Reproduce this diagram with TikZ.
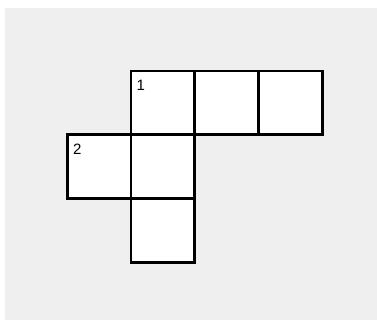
\documentclass[tikz,border=0pt]{standalone}
\usepackage{fontspec}
\setmainfont{Liberation Sans}
\usetikzlibrary{positioning}
\definecolor{pagegray}{RGB}{239,239,239}

\begin{document}
\begin{tikzpicture}[
    x=1pt, y=-1pt,
    node distance=0pt,
    netcell/.style={draw, line width=2.8pt, fill=white, minimum size=63.7pt, inner sep=0pt, outer sep=0pt},
    cellnum/.style={anchor=north west, inner xsep=5.5pt, inner ysep=9pt, font=\fontsize{15}{17}\selectfont}
  ]
    \useasboundingbox (0,0) rectangle (377,320);
    \fill[white] (0,0) rectangle (377,320);
    \fill[pagegray] (5,8) rectangle (377,320);
    \node[netcell] (top1) at (162.85,102.85) {};
    \node[netcell, right=of top1] (top2) {};
    \node[netcell, right=of top2] (top3) {};
    \node[netcell, below=of top1] (mid) {};
    \node[netcell, left=of mid] (side) {};
    \node[netcell, below=of mid] (bottom) {};
    \node[cellnum] (num1) at (top1.north west) {1};
    \node[cellnum] (num2) at (side.north west) {2};
  \end{tikzpicture}
\end{document}
